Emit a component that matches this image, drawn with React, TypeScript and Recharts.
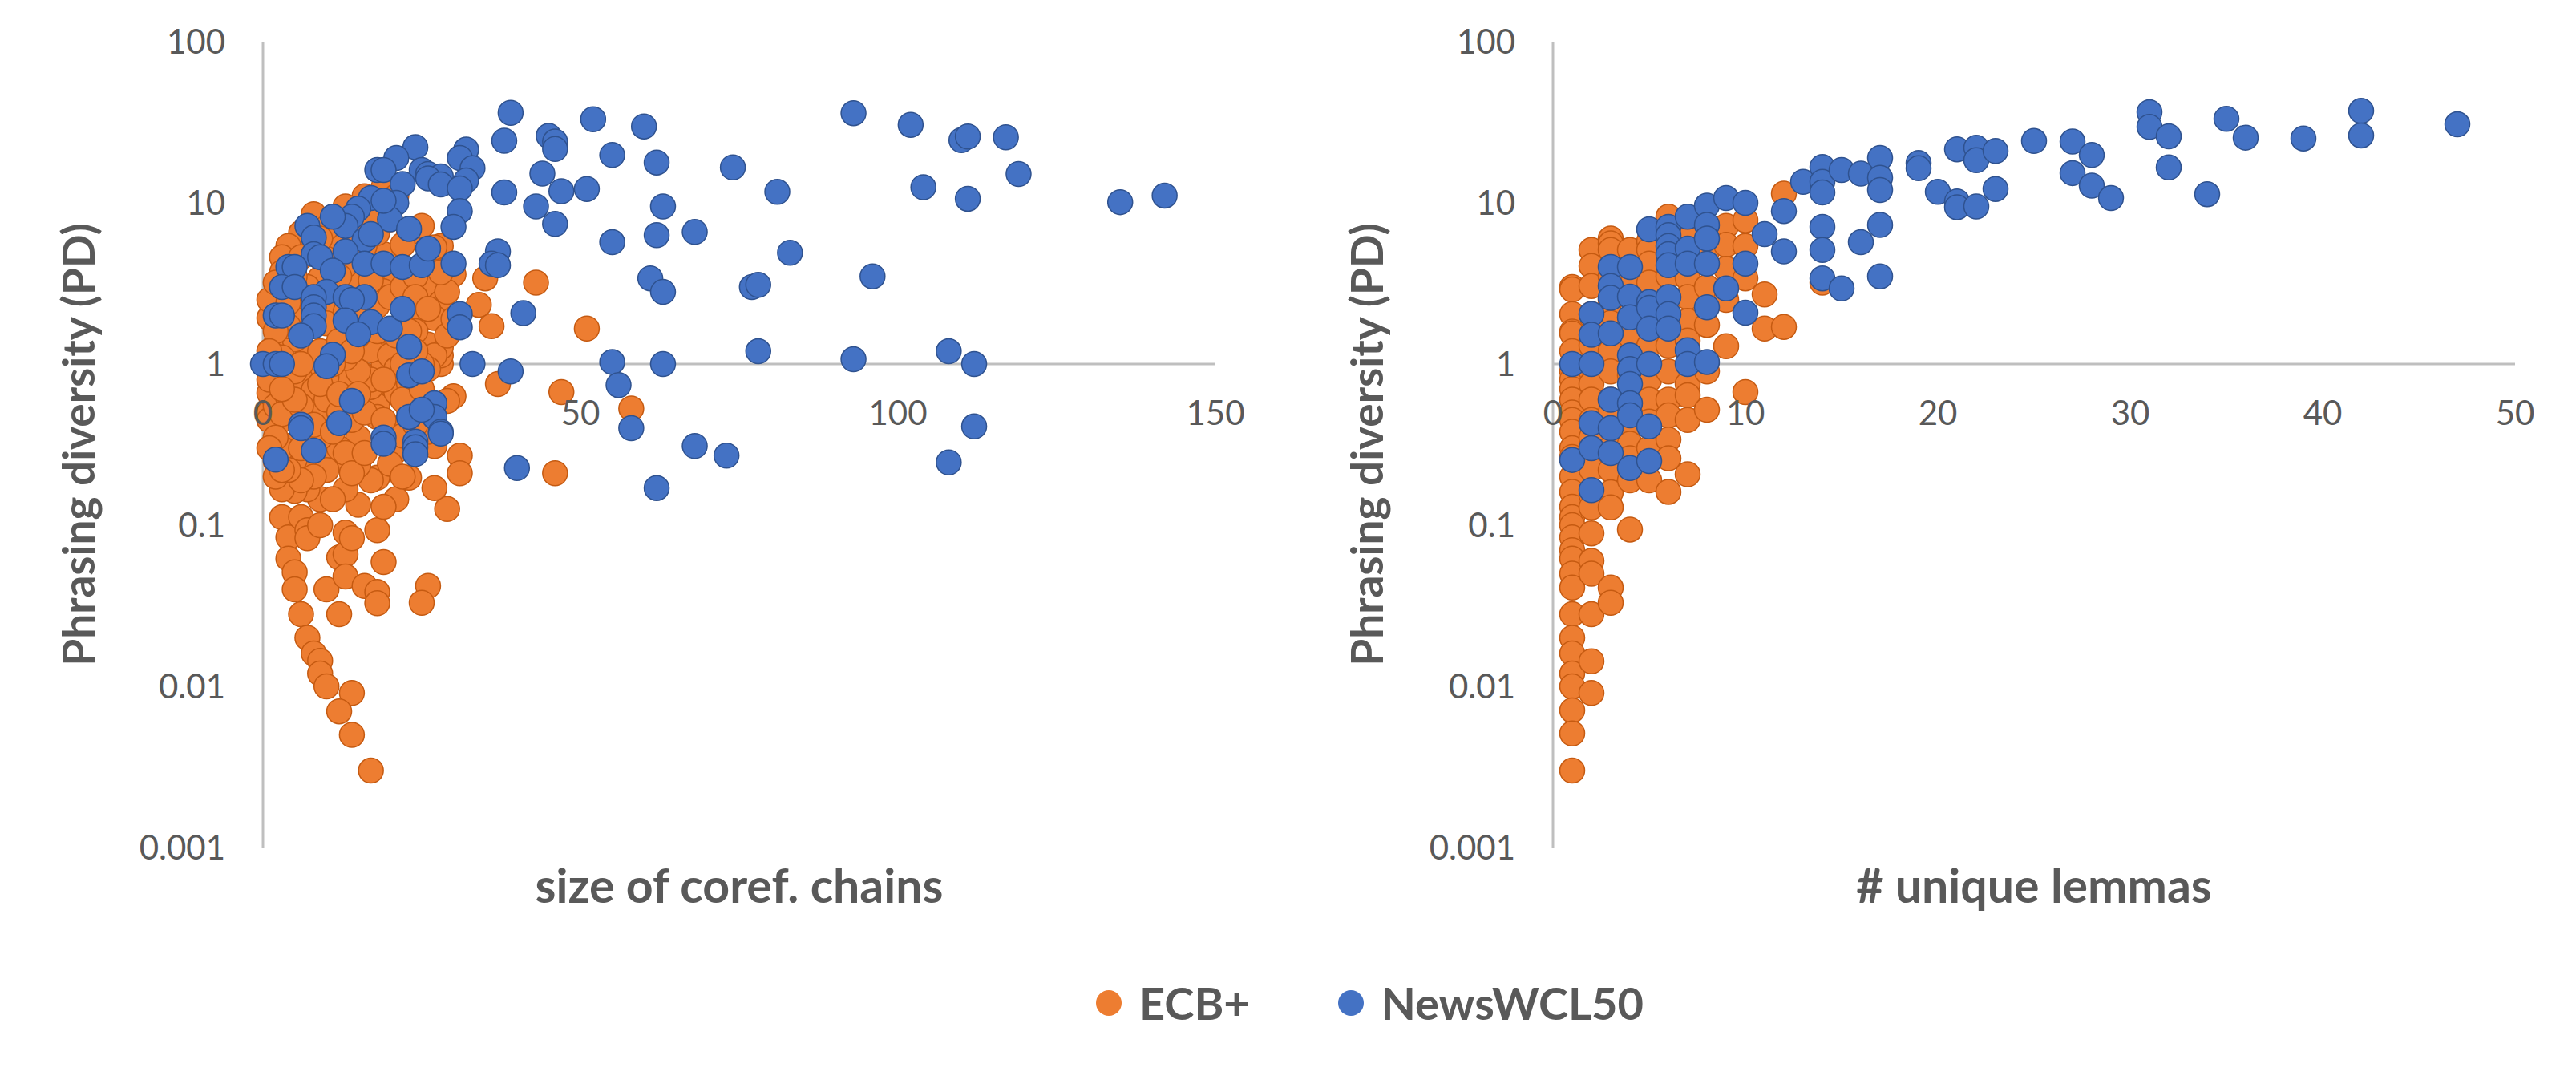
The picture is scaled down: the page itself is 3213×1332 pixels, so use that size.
import React from "react";
import { ScatterChart, Scatter, XAxis, YAxis, ReferenceLine } from "recharts";

type Pt = [number, number];

// series + axis setup
const SERIES_NAMES = ["ECB+", "NewsWCL50"];
const Y_TITLE = "Phrasing diversity (PD)";
const X_TITLES = ["size of coref. chains", "# unique lemmas"];
const Y_TICKS = [0.001, 0.01, 0.1, 1, 10, 100];
const CHAIN_TICKS = [0, 50, 100, 150];
const LEMMA_TICKS = [0, 10, 20, 30, 40, 50];

// ECB+ : [chain size, PD]
const ECB_BY_CHAIN: Pt[] = [
  [3, 0.112], [4, 0.084], [4, 0.062], [5, 0.051], [5, 0.04], [6, 0.028], [7, 0.02], [8, 0.016],
  [9, 0.0144], [9, 0.012], [10, 0.01], [14, 0.0091], [12, 0.007], [14, 0.005], [17, 0.003],
  [10, 0.04], [12, 0.028], [12, 0.063], [13, 0.066], [13, 0.048], [13, 0.09], [14, 0.083],
  [16, 0.042], [18, 0.0385], [18, 0.0328], [18, 0.093], [19, 0.059], [26, 0.042], [25, 0.033],
  [29, 0.126], [31, 0.27], [31, 0.21], [46, 0.21], [47, 0.67], [37, 0.75], [30, 0.63], [29, 0.59],
  [21, 0.145], [19, 0.13], [23, 0.197], [18, 0.197], [15, 0.134], [13, 0.167], [9, 0.145],
  [11, 0.145], [7, 0.167], [5, 0.163], [3, 0.167], [6, 0.112], [7, 0.093], [7, 0.083], [9, 0.1],
  [17, 0.19], [21, 0.29], [27, 0.31], [28, 1.0], [28, 1.13], [20, 0.67], [17, 0.67], [18, 0.55],
  [18, 0.47], [15, 0.35], [15, 0.235], [11, 0.255], [12, 0.3], [9, 0.35], [7, 0.235], [5, 0.255],
  [4, 0.31], [3, 0.45], [4, 0.57], [2, 0.67], [4, 0.7], [7, 0.79], [7, 0.64], [9, 0.5], [11, 0.79],
  [13, 0.85], [16, 0.85], [17, 0.72], [19, 1.13], [19, 1.0], [1, 0.5], [1, 0.45], [21, 0.67],
  [23, 0.75], [23, 0.52], [26, 0.38], [27, 0.17], [58, 0.53], [51, 1.66], [43, 3.2], [35, 3.4],
  [34, 2.33], [36, 1.72], [8, 8.5], [6, 6.5], [4, 5.4], [3, 4.6], [3, 3.7], [2, 2.33], [1, 1.93],
  [2, 1.32], [2, 0.9], [1, 0.66], [2, 0.55], [19, 12.5], [23, 6.5], [28, 5.4], [30, 3.6], [27, 3.0],
  [28, 2.4], [27, 1.93], [28, 1.27], [26, 1.32], [27, 1.13], [26, 0.93], [21, 3.4], [23, 2.0],
  [19, 2.83], [17, 2.83], [16, 3.6], [14, 3.3], [17, 1.22], [20, 1.13], [21, 0.93], [17, 0.8],
  [15, 0.9], [13, 1.09], [10, 0.83], [7, 1.13], [5, 1.42], [6, 0.8], [8, 0.69], [4, 0.61], [3, 0.49],
  [8, 5.6], [11, 6.1], [13, 4.1], [6, 4.6], [9, 3.4], [11, 2.3], [6, 2.1], [4, 1.72], [10, 1.79],
  [13, 2.1], [17, 3.3], [19, 4.8], [18, 6.5], [20, 7.9], [17, 8.2], [16, 5.4], [5, 0.9], [6, 0.55],
  [8, 0.42], [10, 0.6], [12, 0.5], [14, 0.45], [16, 0.5], [11, 0.38], [13, 0.28], [10, 0.22],
  [8, 0.2], [6, 0.19], [14, 0.21], [16, 0.28], [20, 0.4], [22, 0.36], [20, 0.24], [22, 0.6],
  [24, 0.85], [9, 1.2], [12, 1.4], [15, 1.5], [18, 1.6], [21, 1.5], [24, 1.6], [3, 1.1], [5, 2.6],
  [7, 3.0], [10, 4.5], [12, 3.5], [15, 2.2], [18, 2.3], [20, 2.6], [22, 3.0], [24, 3.5], [14, 6.8],
  [12, 7.5], [10, 7.0], [9, 6.0], [5, 3.5], [2, 1.6], [1, 1.2], [1, 0.8], [3, 0.3], [2, 0.25],
  [2, 0.35], [4, 0.22], [5, 0.6], [24, 2.6], [26, 2.2], [29, 2.8], [29, 1.5], [30, 1.9], [26, 4.5],
  [22, 5.5], [25, 7.2], [21, 11], [16, 11], [13, 9.5], [27, 5.3], [28, 3.7], [25, 1.0], [24, 1.2],
  [22, 1.0], [23, 1.6], [25, 0.7], [14, 1.2], [11, 1.0], [6, 1.0], [9, 0.75], [12, 0.65], [15, 0.65],
  [19, 0.8], [19, 0.45], [22, 0.2], [24, 0.42], [2, 0.2], [1, 0.3], [3, 0.7], [1, 2.5], [2, 3.2],
  [4, 2.4], [3, 0.22], [6, 0.3],
];

// NewsWCL50 : [chain size, PD]
const NEWS_BY_CHAIN: Pt[] = [
  [39, 36.2], [38, 24.3], [52, 33], [60, 29.8], [45, 26], [46, 24], [46, 21.6], [55, 19.8], [62, 17.8],
  [44, 15.2], [38, 11.6], [47, 11.8], [51, 12.2], [43, 9.5], [46, 7.4], [63, 9.5], [55, 5.7], [62, 6.3],
  [68, 6.6], [37, 5.0], [36, 4.2], [37, 4.1], [61, 3.4], [63, 2.8], [41, 2.07], [31, 2.04], [31, 1.69],
  [33, 1.0], [39, 0.9], [55, 1.03], [63, 1.0], [56, 0.74], [58, 0.4], [68, 0.31], [93, 36],
  [102, 30.5], [110, 24.5], [111, 25.8], [117, 25.5], [119, 15.1], [104, 12.5], [111, 10.6],
  [135, 10.1], [142, 11.1], [96, 3.5], [93, 1.07], [108, 1.2], [112, 1.0], [108, 0.245], [112, 0.41],
  [81, 11.7], [83, 4.9], [77, 3.0], [78, 3.1], [78, 1.2], [73, 0.27], [62, 0.17], [74, 16.6],
  [40, 0.226], [24, 22.2], [21, 19], [18, 16], [19, 16], [25, 16], [26, 15.1], [28, 14.6], [26, 14.2],
  [28, 13], [32, 21.4], [31, 19], [33, 16.4], [32, 13.8], [31, 12.3], [22, 13.1], [31, 8.9], [30, 7.1],
  [21, 10], [20, 7.9], [17, 10.7], [19, 10.3], [15, 9.2], [14, 8.2], [13, 7.2], [11, 8.2], [7, 7.2],
  [8, 6.1], [8, 4.8], [9, 4.6], [23, 6.9], [16, 5.9], [17, 6.4], [13, 5.0], [11, 3.8], [4, 4.0],
  [5, 4.0], [16, 4.2], [19, 4.2], [22, 4.0], [25, 4.1], [30, 4.2], [26, 5.2], [3, 3.0], [5, 3.0],
  [10, 2.8], [13, 2.6], [16, 2.6], [14, 2.5], [8, 2.6], [8, 2.25], [8, 2.0], [8, 1.72], [2, 2.0],
  [3, 2.0], [13, 1.86], [17, 1.82], [15, 1.53], [20, 1.66], [6, 1.5], [22, 2.2], [23, 1.28], [0, 1.0],
  [2, 1.0], [3, 1.0], [11, 1.14], [10, 0.97], [23, 0.85], [25, 0.9], [14, 0.59], [23, 0.47],
  [27, 0.57], [27, 0.47], [28, 0.38], [6, 0.42], [12, 0.43], [19, 0.35], [24, 0.33], [2, 0.255],
  [8, 0.29], [6, 0.4], [19, 0.32], [24, 0.305], [24, 0.276], [28, 0.37], [25, 0.52],
];

// ECB+ : [unique lemmas, PD]
const ECB_BY_LEMMA: Pt[] = [
  [1, 3.0], [1, 2.9], [1, 2.04], [1, 1.59], [1, 1.55], [1, 1.2], [1, 0.9], [1, 0.8], [1, 0.7], [1, 0.6],
  [1, 0.5], [1, 0.45], [1, 0.38], [1, 0.3], [1, 0.265], [1, 0.2], [1, 0.161], [1, 0.13], [1, 0.112],
  [1, 0.1], [1, 0.084], [1, 0.07], [1, 0.062], [1, 0.05], [1, 0.041], [1, 0.028], [1, 0.02],
  [1, 0.016], [1, 0.012], [1, 0.01], [1, 0.0071], [1, 0.0051], [1, 0.003],
  [2, 5.1], [2, 4.06], [2, 3.05], [2, 2.04], [2, 1.3], [2, 0.9], [2, 0.75], [2, 0.6], [2, 0.45],
  [2, 0.35], [2, 0.222], [2, 0.154], [2, 0.129], [2, 0.089], [2, 0.06], [2, 0.05], [2, 0.028],
  [2, 0.0143], [2, 0.0091],
  [3, 6.0], [3, 5.6], [3, 5.1], [3, 3.5], [3, 2.5], [3, 2.0], [3, 1.8], [3, 1.2], [3, 0.9], [3, 0.6],
  [3, 0.5], [3, 0.3], [3, 0.22], [3, 0.16], [3, 0.129], [3, 0.041], [3, 0.033],
  [4, 5.1], [4, 3.8], [4, 3.0], [4, 1.5], [4, 0.85], [4, 0.65], [4, 0.4], [4, 0.32], [4, 0.26],
  [4, 0.19], [4, 0.094],
  [5, 5.8], [5, 5.1], [5, 4.2], [5, 3.2], [5, 1.3], [5, 0.8], [5, 0.6], [5, 0.44], [5, 0.3], [5, 0.19],
  [6, 8.2], [6, 6.5], [6, 3.5], [6, 1.3], [6, 0.9], [6, 0.6], [6, 0.48], [6, 0.34], [6, 0.26], [6, 0.161],
  [7, 6.0], [7, 3.6], [7, 3.4], [7, 2.6], [7, 1.85], [7, 1.4], [7, 0.75], [7, 0.64], [7, 0.45], [7, 0.207],
  [8, 5.0], [8, 3.0], [8, 1.75], [8, 0.9], [8, 0.52],
  [9, 7.2], [9, 5.5], [9, 3.9], [9, 2.5], [9, 1.29],
  [10, 7.8], [10, 5.4], [10, 3.4], [10, 0.67],
  [11, 2.7], [11, 1.66], [12, 11.4], [12, 1.7], [14, 3.2],
];

// NewsWCL50 : [unique lemmas, PD]
const NEWS_BY_LEMMA: Pt[] = [
  [1, 1.0], [1, 0.254],
  [2, 2.04], [2, 1.52], [2, 1.0], [2, 0.43], [2, 0.3], [2, 0.165],
  [3, 4.0], [3, 3.05], [3, 2.57], [3, 1.55], [3, 0.6], [3, 0.4], [3, 0.28],
  [4, 4.0], [4, 2.62], [4, 1.95], [4, 1.13], [4, 0.93], [4, 0.75], [4, 0.57], [4, 0.48], [4, 0.226],
  [5, 6.85], [5, 2.42], [5, 2.23], [5, 1.66], [5, 1.0], [5, 0.41], [5, 0.25],
  [6, 7.1], [6, 6.3], [6, 5.4], [6, 4.8], [6, 4.1], [6, 2.6], [6, 2.04], [6, 1.66],
  [7, 8.2], [7, 5.2], [7, 4.2], [7, 1.22], [7, 1.0],
  [8, 9.6], [8, 7.3], [8, 6.0], [8, 4.2], [8, 2.25], [8, 1.03],
  [9, 10.7], [9, 2.94], [10, 10.0], [10, 4.2], [10, 2.08], [11, 6.4], [12, 8.9], [12, 5.0],
  [13, 13.5], [14, 16.7], [14, 13.5], [14, 11.6], [14, 7.1], [14, 5.1], [14, 3.4], [15, 16.0],
  [15, 2.94], [16, 15.2], [16, 5.7], [17, 19.0], [17, 14.3], [17, 12.0], [17, 7.3], [17, 3.5],
  [19, 17.7], [19, 16.4], [20, 11.7], [21, 21.5], [21, 10.2], [21, 9.4], [22, 22.0], [22, 18.4],
  [22, 9.5], [23, 21.0], [23, 12.2], [25, 24.2], [27, 24.0], [27, 15.3], [28, 19.8], [28, 12.8],
  [29, 10.7], [31, 36.5], [31, 29.6], [32, 25.9], [32, 16.6], [34, 11.3], [35, 33.2], [36, 25.4],
  [39, 25.1], [42, 37.2], [42, 26.2], [47, 30.7],
];

const Y_DOMAIN: [number, number] = [0.001, 100];
const FONT = "Lato, 'Open Sans', sans-serif";
const TEXT = "#595959";
const AXIS = "#BFBFBF";
const ORANGE = "#ED7D31";
const ORANGE_EDGE = "#C55A11";
const BLUE = "#4472C4";
const BLUE_EDGE = "#2F528F";

const CHART_H = 1160;
const PLOT_TOP = 52;
const PLOT_H = 1005;

const toRows = (pts: Pt[]) => pts.map(([x, y]) => ({ x, y }));

const marker = (fill: string, edge: string) => (p: any) => (
  <circle cx={p.cx} cy={p.cy} r={15.5} fill={fill} stroke={edge} strokeWidth={1.5} />
);

interface PanelProps {
  left: number;
  width: number;
  yAxisWidth: number;
  marginRight: number;
  xTitle: string;
  xTicks: number[];
  ecb: Pt[];
  news: Pt[];
  yTitleOffset: number;
}

function Panel({ left, width, yAxisWidth, marginRight, xTitle, xTicks, ecb, news, yTitleOffset }: PanelProps) {
  // x axis is drawn where y = 1, so lift the tick labels up to that line
  const lg = Math.log10;
  const oneFrac = (lg(1) - lg(Y_DOMAIN[0])) / (lg(Y_DOMAIN[1]) - lg(Y_DOMAIN[0]));
  const renderXTick = (props: any) => {
    const { x, y, payload } = props;
    return (
      <text
        x={x}
        y={y - PLOT_H * oneFrac + 76}
        textAnchor="middle"
        fill={TEXT}
        fontSize={42}
        fontFamily={FONT}
      >
        {payload.value}
      </text>
    );
  };

  return (
    <div style={{ position: "absolute", left, top: 0 }}>
      <ScatterChart
        width={width}
        height={CHART_H}
        margin={{ top: PLOT_TOP, right: marginRight, bottom: 0, left: 0 }}
      >
        <XAxis
          type="number"
          dataKey="x"
          domain={[xTicks[0], xTicks[xTicks.length - 1]]}
          ticks={xTicks}
          interval={0}
          axisLine={false}
          tickLine={false}
          tickSize={0}
          tickMargin={0}
          height={CHART_H - PLOT_TOP - PLOT_H}
          tick={renderXTick}
          label={{
            value: xTitle,
            position: "insideBottom",
            offset: 34,
            style: { fill: TEXT, fontSize: 59, fontWeight: 700, fontFamily: FONT },
          }}
        />
        <YAxis
          type="number"
          dataKey="y"
          scale="log"
          domain={Y_DOMAIN}
          ticks={Y_TICKS}
          interval={0}
          width={yAxisWidth}
          axisLine={{ stroke: AXIS, strokeWidth: 3 }}
          tickLine={false}
          tickSize={0}
          tickMargin={47}
          tickFormatter={(v: number) => String(v)}
          tick={{ fill: TEXT, fontSize: 42, fontFamily: FONT }}
          label={{
            value: Y_TITLE,
            angle: -90,
            position: "insideLeft",
            offset: yTitleOffset,
            style: { fill: TEXT, fontSize: 55, fontWeight: 700, fontFamily: FONT, textAnchor: "middle" },
          }}
        />
        <ReferenceLine y={1} stroke={AXIS} strokeWidth={3} />
        <Scatter
          name={SERIES_NAMES[0]}
          data={toRows(ecb)}
          shape={marker(ORANGE, ORANGE_EDGE)}
          isAnimationActive={false}
        />
        <Scatter
          name={SERIES_NAMES[1]}
          data={toRows(news)}
          shape={marker(BLUE, BLUE_EDGE)}
          isAnimationActive={false}
        />
      </ScatterChart>
    </div>
  );
}

export default function App() {
  const legendColors = [ORANGE, BLUE];
  return (
    <div
      style={{
        position: "absolute",
        left: 0,
        top: 0,
        width: 3213,
        height: 1332,
        background: "#fff",
        fontFamily: FONT,
        overflow: "hidden",
      }}
    >
      <Panel
        left={0}
        width={1600}
        yAxisWidth={328}
        marginRight={84}
        xTitle={X_TITLES[0]}
        xTicks={CHAIN_TICKS}
        ecb={ECB_BY_CHAIN}
        news={NEWS_BY_CHAIN}
        yTitleOffset={98}
      />
      <Panel
        left={1660}
        width={1553}
        yAxisWidth={277}
        marginRight={76}
        xTitle={X_TITLES[1]}
        xTicks={LEMMA_TICKS}
        ecb={ECB_BY_LEMMA}
        news={NEWS_BY_LEMMA}
        yTitleOffset={45}
      />

      {/* Legend */}
      <div
        style={{
          position: "absolute",
          left: 1367,
          top: 1223,
          height: 56,
          display: "flex",
          alignItems: "center",
        }}
      >
        {SERIES_NAMES.map((name, i) => (
          <div key={name} style={{ display: "flex", alignItems: "center", marginLeft: i === 0 ? 0 : 110 }}>
            <div
              style={{
                width: 32,
                height: 32,
                borderRadius: "50%",
                backgroundColor: legendColors[i],
                marginRight: 22,
              }}
            />
            <span style={{ fontSize: 56, lineHeight: "56px", fontWeight: 700, color: TEXT }}>{name}</span>
          </div>
        ))}
      </div>
    </div>
  );
}
